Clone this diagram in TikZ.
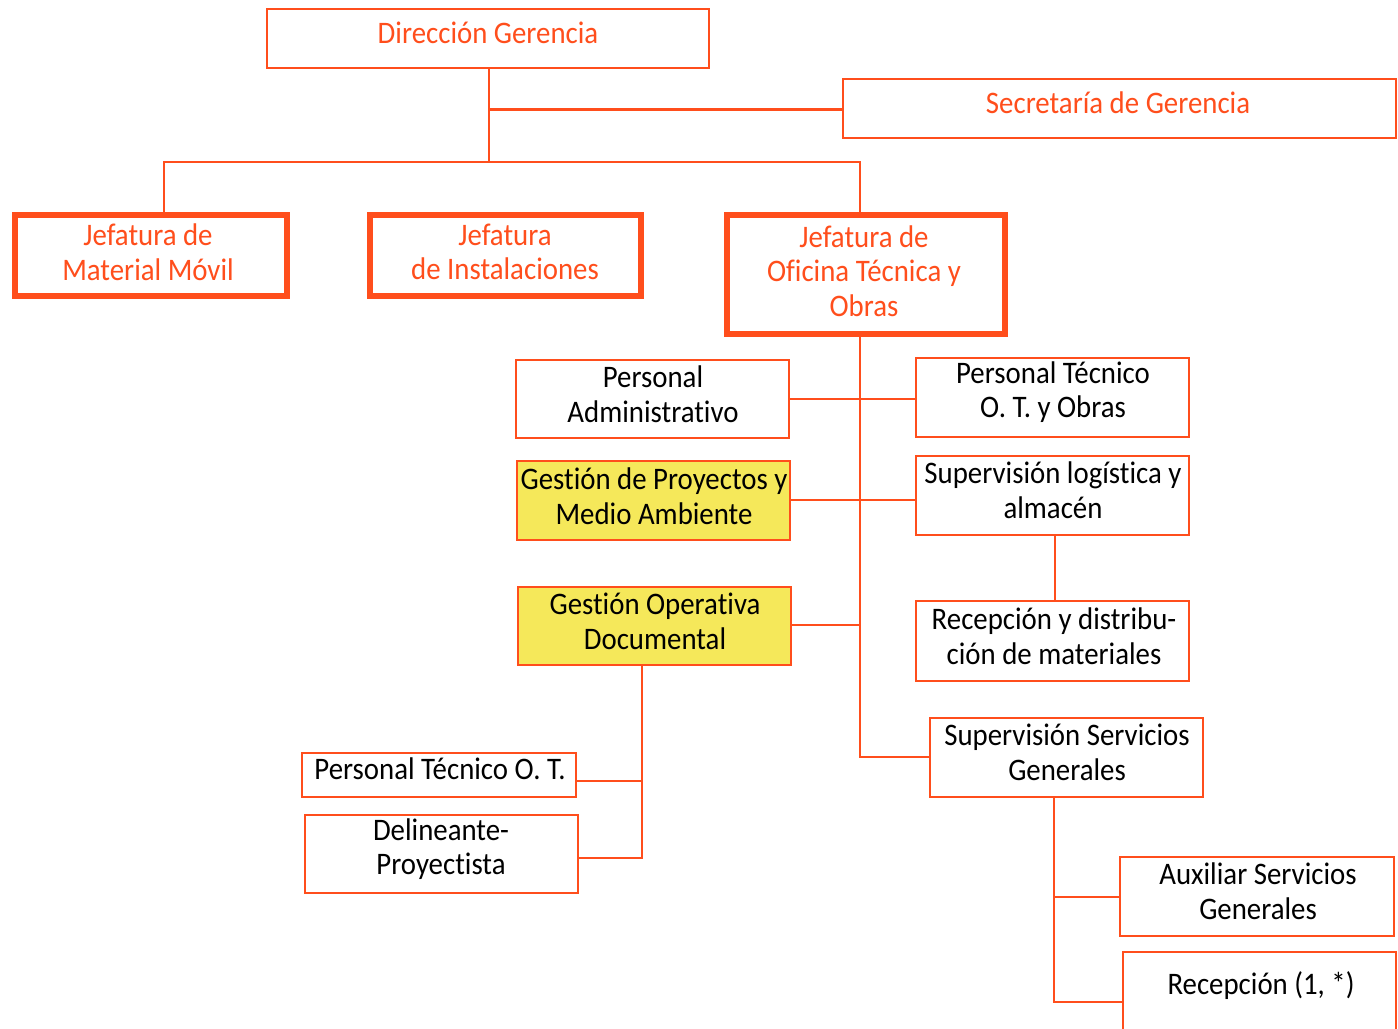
\documentclass[tikz,border=0pt]{standalone}
\usepackage{fontspec}
\setmainfont[FakeStretch=0.92, Ligatures=NoCommon]{Carlito}
\usetikzlibrary{fit}
\definecolor{org}{HTML}{FF4E1C}
\definecolor{yel}{HTML}{F5E85A}
\tikzset{
  box/.style={draw=org, line width=2pt, inner sep=0pt, fill=white},
  thickbox/.style={box, line width=4.3pt},
  ybox/.style={box, fill=yel},
  lbl/.style={inner sep=0pt, align=center, font=\fontsize{23.5}{26}\selectfont},
  olbl/.style={lbl, text=org},
  con/.style={draw=org, line width=2pt}
}
\begin{document}
\begin{tikzpicture}[x=0.75pt, y=-0.75pt]
\useasboundingbox (0,0) rectangle (1398,1028);
% boxes
\node[box, fit={(267,9) (709,68)}] (dg) {};
\node[box, fit={(843,79) (1396,138)}] (sec) {};
\node[thickbox, fit={(15,215) (287,296)}] (jmm) {};
\node[thickbox, fit={(370,215) (641,296)}] (ji) {};
\node[thickbox, fit={(727,215) (1005,334)}] (jot) {};
\node[box, fit={(516,360) (789,438)}] (pa) {};
\node[box, fit={(916,358) (1189,437)}] (pt) {};
\node[ybox, fit={(517,461) (790,540)}] (gp) {};
\node[box, fit={(916,456) (1189,535)}] (sl) {};
\node[box, fit={(916,601) (1189,681)}] (rd) {};
\node[ybox, fit={(518,587) (791,665)}] (go) {};
\node[box, fit={(302,753) (576,797)}] (pto) {};
\node[box, fit={(305,815) (578,893)}] (dp) {};
\node[box, fit={(930,718) (1203,797)}] (ss) {};
\node[box, fit={(1120,857) (1394,936)}] (as) {};
\node[box, fit={(1123,952) (1396,1045)}] (rec) {};
% labels
\node[olbl] (tdg) at (488,33) {Dirección Gerencia};
\node[olbl] (tsec) at (1118,103) {Secretaría de Gerencia};
\node[olbl] (tjmm) at (148,252) {Jefatura de\\Material Móvil};
\node[olbl] (tji) at (505,252) {Jefatura\\de Instalaciones};
\node[olbl] (tjot) at (864,271) {Jefatura de\\Oficina Técnica y\\Obras};
\node[lbl] (tpa) at (653,394) {Personal\\Administrativo};
\node[lbl] (tpt) at (1053,392) {Personal Técnico\\O. T. y Obras};
\node[lbl] (tgp) at (654,496) {Gestión de Proyectos y\\Medio Ambiente};
\node[lbl] (tsl) at (1053,490) {Supervisión logística y\\almacén};
\node[lbl] (trd) at (1054,636) {Recepción y distribu-\\ción de materiales};
\node[lbl] (tgo) at (655,621) {Gestión Operativa\\Documental};
\node[lbl] (tpto) at (440,769) {Personal Técnico O. T.};
\node[lbl] (tdp) at (441,849) {Delineante-\\Proyectista};
\node[lbl] (tss) at (1067,752) {Supervisión Servicios\\Generales};
\node[lbl] (tas) at (1258,891) {Auxiliar Servicios\\Generales};
\node[lbl] (trec) at (1261,986) {Recepción (1, *)};
% connectors
\coordinate (c1) at (489,162);
\draw[con] (dg.south -| c1) -- (c1);
\draw[con] (dg.south -| c1) ++(0,40) coordinate (c2) -- (c2 -| sec.west);
\draw[con] (jmm.north -| 164,0) -- (164,162) -- (860,162) -- (jot.north -| 860,0);
\coordinate (v) at (860,757);
\draw[con] (jot.south -| v) -- (v) -- (v -| ss.west);
\draw[con] (pa.east |- 0,399) -- (pt.west |- 0,399);
\draw[con] (gp.east |- 0,500) -- (sl.west |- 0,500);
\draw[con] (go.east |- 0,625) -- (860,625);
\draw[con] (sl.south -| 1055,0) -- (rd.north -| 1055,0);
\draw[con] (go.south -| 642,0) -- (642,858) -- (dp.east |- 0,858);
\draw[con] (642,781) -- (pto.east |- 0,781);
\draw[con] (ss.south -| 1054,0) -- (1054,1002) -- (rec.west |- 0,1002);
\draw[con] (1054,897) -- (as.west |- 0,897);
\end{tikzpicture}
\end{document}
